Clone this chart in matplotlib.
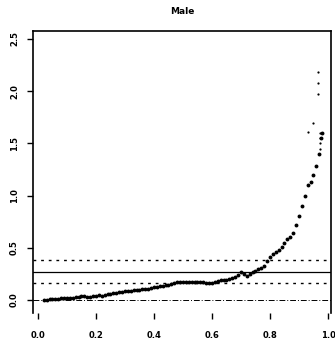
import matplotlib
matplotlib.use('Agg')
import matplotlib.pyplot as plt

# Data
x_vals = [0.02, 0.03, 0.04, 0.05, 0.06, 0.07, 0.08, 0.09, 0.10, 0.11,
          0.12, 0.13, 0.14, 0.15, 0.16, 0.17, 0.18, 0.19, 0.20, 0.21,
          0.22, 0.23, 0.24, 0.25, 0.26, 0.27, 0.28, 0.29, 0.30, 0.31,
          0.32, 0.33, 0.34, 0.35, 0.36, 0.37, 0.38, 0.39, 0.40, 0.41,
          0.42, 0.43, 0.44, 0.45, 0.46, 0.47, 0.48, 0.49, 0.50, 0.51,
          0.52, 0.53, 0.54, 0.55, 0.56, 0.57, 0.58, 0.59, 0.60, 0.61,
          0.62, 0.63, 0.64, 0.65, 0.66, 0.67, 0.68, 0.69, 0.70, 0.71,
          0.72, 0.73, 0.74, 0.75, 0.76, 0.77, 0.78, 0.79, 0.80, 0.81,
          0.82, 0.83, 0.84, 0.85, 0.86, 0.87, 0.88, 0.89, 0.90, 0.91,
          0.92, 0.93, 0.94, 0.95, 0.96, 0.97, 0.975, 0.98]
y_vals = [0.00, 0.00, 0.005, 0.01, 0.01, 0.01, 0.015, 0.015, 0.02, 0.02,
          0.02, 0.025, 0.03, 0.035, 0.035, 0.03, 0.03, 0.035, 0.04, 0.045,
          0.04, 0.05, 0.055, 0.06, 0.065, 0.07, 0.075, 0.08, 0.085, 0.09,
          0.09, 0.095, 0.10, 0.10, 0.105, 0.105, 0.11, 0.115, 0.12, 0.125,
          0.13, 0.135, 0.14, 0.145, 0.15, 0.16, 0.17, 0.175, 0.175, 0.175,
          0.175, 0.175, 0.175, 0.17, 0.17, 0.17, 0.165, 0.16, 0.165, 0.175,
          0.185, 0.19, 0.19, 0.195, 0.20, 0.21, 0.22, 0.24, 0.265, 0.245,
          0.23, 0.245, 0.265, 0.28, 0.295, 0.31, 0.33, 0.37, 0.41, 0.44,
          0.46, 0.48, 0.51, 0.55, 0.58, 0.60, 0.64, 0.72, 0.80, 0.90,
          1.00, 1.10, 1.13, 1.20, 1.28, 1.40, 1.55, 1.60]

# sparse points at the top right
out_x = [0.93, 0.95, 0.965, 0.965, 0.965, 0.972, 0.972, 0.972, 0.972]
out_y = [1.61, 1.70, 1.97, 2.08, 2.18, 1.45, 1.50, 1.55, 1.60]

# reference lines
h_dotted = [0.38, 0.16]
h_solid = 0.27
h_dashdot = 0.0

x_ticks = [0.0, 0.2, 0.4, 0.6, 0.8, 1.0]
y_ticks = [0.0, 0.5, 1.0, 1.5, 2.0, 2.5]

fig = plt.figure(figsize=(3.35, 3.4), dpi=100)
ax = fig.add_axes([0.0985, 0.0794, 0.8895, 0.8296])

for h in h_dotted:
    ax.axhline(h, color='black', lw=1.0, linestyle=(0, (2, 3.5)))
ax.axhline(h_solid, color='black', lw=0.9)
ax.axhline(h_dashdot, color='black', lw=0.7, linestyle=(0, (6, 2, 1, 2)))

ax.plot(x_vals, y_vals, 'o', color='black', markersize=2.8, markeredgewidth=0)
ax.plot(out_x, out_y, 'o', color='black', markersize=1.6, markeredgewidth=0)

ax.set_xlim(-0.0172, 1.0103)
ax.set_ylim(-0.1245, 2.577)
ax.set_xticks(x_ticks)
ax.set_yticks(y_ticks)
ax.set_xticklabels([f'{t:.1f}' for t in x_ticks], fontsize=6, fontweight='bold')
ax.set_yticklabels([f'{t:.1f}' for t in y_ticks], fontsize=6, fontweight='bold',
                   rotation=90, va='center')
ax.tick_params(direction='out', length=4, width=1)
ax.tick_params(axis='x', pad=9)
ax.tick_params(axis='y', pad=6)
ax.spines['bottom'].set_visible(False)
for s in ['left', 'right', 'top']:
    ax.spines[s].set_linewidth(1.2)

ax.set_title('Male', fontsize=6.5, fontweight='bold', pad=12)

fig.savefig('out.png', dpi=100)
